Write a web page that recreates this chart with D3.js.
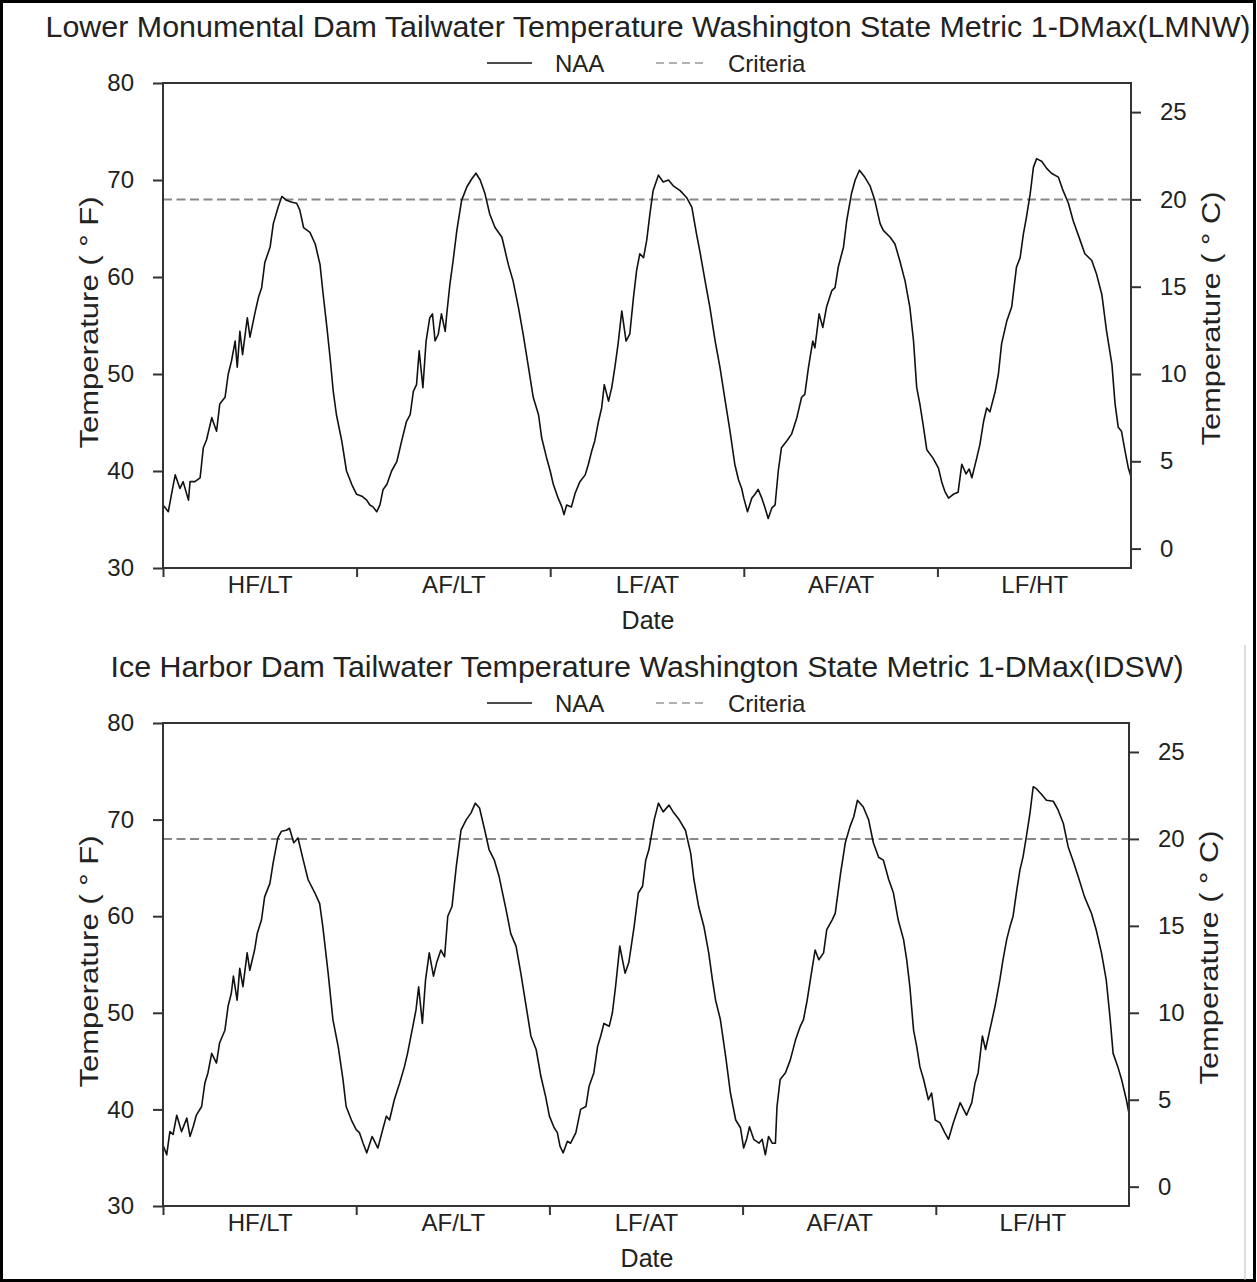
<!DOCTYPE html>
<html>
<head>
<meta charset="utf-8">
<script src="https://cdn.jsdelivr.net/npm/d3@7"></script>
<style>
  body { margin: 0; background: #fff; }
  svg { display: block; font-family: "Liberation Sans", Arial, sans-serif; }
</style>
</head>
<body>
<div id="chart"></div>
<script>
// daily max tailwater temp as [day of record, deg F]
const lmnwSeries = [[0,36.5],[10,35.8],[16,37.6],[23,39.6],[32,38.2],[38,38.9],[48,37.0],[51,38.9],[60,38.9],[70,39.3],[76,42.4],[82,43.2],[92,45.5],[101,44.1],[107,46.9],[117,47.6],[123,50.0],[129,51.3],[136,53.4],[140,50.7],[145,54.4],[150,52.0],[159,55.8],[164,53.8],[173,56.2],[180,57.9],[186,58.9],[192,61.5],[202,63.1],[208,65.5],[217,67.2],[224,68.3],[233,67.9],[243,67.7],[252,67.6],[258,66.9],[265,65.1],[277,64.6],[287,63.4],[296,61.3],[302,58.2],[309,54.8],[315,51.7],[321,48.2],[327,45.8],[337,43.1],[346,40.0],[356,38.6],[365,37.6],[375,37.4],[384,37.0],[390,36.5],[396,36.3],[403,35.8],[409,36.5],[415,38.1],[422,38.6],[431,40.0],[441,41.0],[450,43.1],[459,45.1],[466,45.8],[472,48.2],[478,48.9],[483,52.4],[490,48.6],[496,53.4],[503,55.8],[508,56.2],[513,53.4],[519,54.1],[525,56.2],[532,54.4],[535,56.2],[541,59.3],[547,61.7],[554,64.8],[563,67.9],[573,69.3],[582,70.1],[590,70.7],[598,70.0],[607,68.6],[616,66.5],[626,65.1],[639,64.1],[651,61.3],[660,59.6],[670,56.9],[679,54.1],[689,50.7],[698,47.6],[708,45.8],[714,43.4],[723,41.4],[730,40.0],[736,38.6],[745,37.2],[752,36.3],[756,35.5],[761,36.5],[770,36.3],[777,37.7],[786,38.9],[796,39.6],[802,40.7],[808,42.0],[814,43.1],[821,45.1],[827,46.5],[832,48.9],[840,47.2],[846,48.6],[852,50.7],[858,53.1],[865,56.5],[873,53.4],[880,54.1],[887,57.9],[893,60.7],[899,62.4],[906,62.0],[912,63.8],[918,66.5],[924,68.9],[934,70.5],[943,69.8],[953,70.0],[962,69.4],[975,68.9],[987,68.2],[997,67.2],[1006,64.4],[1012,62.7],[1022,59.6],[1031,56.9],[1041,53.4],[1050,50.7],[1060,47.2],[1069,44.1],[1078,40.7],[1085,39.1],[1091,38.2],[1095,37.2],[1102,35.8],[1110,37.2],[1116,37.6],[1122,38.1],[1129,37.2],[1135,36.2],[1141,35.1],[1148,36.2],[1154,36.5],[1160,40.0],[1166,42.4],[1176,43.1],[1185,43.8],[1195,45.5],[1204,47.6],[1210,47.9],[1217,50.7],[1225,53.4],[1229,52.7],[1237,56.2],[1244,54.8],[1251,56.9],[1261,58.6],[1267,58.9],[1273,61.0],[1283,63.1],[1289,65.8],[1298,68.6],[1305,70.0],[1313,71.0],[1323,70.3],[1333,69.4],[1342,67.9],[1352,65.5],[1358,64.8],[1371,64.1],[1380,63.4],[1389,61.7],[1399,59.6],[1408,56.9],[1415,53.4],[1421,48.6],[1427,46.9],[1433,44.8],[1440,42.2],[1452,41.3],[1462,40.3],[1468,38.9],[1474,37.9],[1481,37.2],[1490,37.6],[1499,37.8],[1506,40.7],[1514,39.7],[1520,40.2],[1525,39.3],[1534,41.3],[1540,42.7],[1547,45.1],[1553,46.5],[1559,46.1],[1569,48.2],[1575,50.0],[1581,53.1],[1591,55.5],[1600,56.9],[1609,61.0],[1616,62.0],[1622,64.4],[1628,66.2],[1635,68.6],[1641,71.3],[1647,72.2],[1657,71.9],[1666,71.2],[1675,70.7],[1688,70.3],[1697,68.9],[1707,67.6],[1716,65.8],[1729,63.8],[1738,62.4],[1751,61.7],[1760,60.3],[1770,58.2],[1779,54.4],[1789,51.0],[1795,46.9],[1801,44.5],[1807,44.1],[1814,42.0],[1820,40.3],[1825,39.4]];

const idswSeries = [[0,36.3],[7,35.3],[13,37.7],[19,37.4],[26,39.4],[35,37.7],[45,39.1],[51,37.2],[57,38.2],[63,39.4],[73,40.3],[79,42.7],[85,43.8],[92,45.8],[101,44.8],[107,46.9],[117,48.2],[123,50.7],[129,52.0],[133,53.8],[140,51.3],[145,54.6],[151,52.7],[159,56.2],[164,54.4],[173,56.5],[178,58.2],[186,59.6],[192,62.0],[202,63.4],[208,65.5],[217,68.1],[224,68.8],[233,68.9],[239,69.1],[247,67.6],[255,68.1],[265,65.8],[274,63.8],[287,62.4],[296,61.3],[302,58.9],[312,54.1],[321,49.3],[331,46.5],[340,43.1],[346,40.3],[356,38.9],[365,37.9],[371,37.6],[378,36.5],[385,35.5],[395,37.2],[406,36.0],[415,37.9],[422,39.3],[428,38.9],[437,41.0],[447,42.7],[456,44.4],[462,45.8],[472,48.6],[478,50.3],[483,52.7],[490,48.9],[496,53.4],[503,56.2],[511,53.8],[517,55.2],[525,56.5],[532,55.8],[538,60.0],[546,61.0],[554,65.1],[563,68.9],[573,70.0],[582,70.7],[590,71.7],[598,71.2],[607,69.1],[616,66.9],[626,65.8],[635,64.1],[648,60.7],[657,58.2],[667,56.9],[676,54.1],[686,50.7],[695,47.6],[705,46.2],[714,43.4],[723,41.3],[730,39.3],[739,38.1],[745,37.6],[750,36.2],[756,35.5],[764,36.7],[770,36.5],[780,37.6],[789,40.0],[799,40.3],[805,42.4],[814,43.8],[821,46.5],[827,47.6],[833,48.9],[843,48.6],[849,50.0],[855,52.7],[863,56.9],[873,54.1],[880,55.2],[890,58.9],[898,62.4],[906,63.1],[912,65.8],[918,66.9],[928,70.0],[936,71.7],[945,70.8],[956,71.5],[965,70.7],[975,70.0],[987,68.9],[997,66.5],[1003,63.8],[1012,61.0],[1022,58.9],[1031,56.2],[1038,53.4],[1044,51.3],[1053,49.3],[1063,45.5],[1072,41.7],[1082,38.9],[1091,38.1],[1097,36.0],[1103,37.0],[1108,38.2],[1116,36.9],[1126,36.5],[1132,36.9],[1138,35.3],[1144,37.2],[1151,36.5],[1157,36.5],[1160,40.3],[1166,43.1],[1176,43.8],[1185,45.1],[1195,47.2],[1204,48.6],[1210,49.3],[1217,51.3],[1225,54.1],[1232,56.5],[1239,55.5],[1248,56.2],[1254,58.6],[1264,59.6],[1270,60.3],[1280,64.4],[1289,67.6],[1298,69.3],[1305,70.3],[1312,72.0],[1323,71.3],[1333,70.0],[1342,67.6],[1352,66.1],[1361,65.8],[1371,63.8],[1380,62.4],[1389,59.6],[1399,57.6],[1405,55.5],[1411,52.7],[1418,48.2],[1424,46.5],[1430,44.4],[1437,43.1],[1446,41.0],[1452,41.7],[1459,38.9],[1468,38.6],[1477,37.6],[1484,36.9],[1493,38.6],[1506,40.7],[1518,39.4],[1528,40.7],[1534,42.7],[1540,43.8],[1548,47.6],[1554,46.2],[1562,48.2],[1572,50.7],[1581,53.4],[1587,55.5],[1594,57.6],[1600,58.9],[1606,60.0],[1613,62.7],[1619,64.8],[1625,66.2],[1631,68.2],[1638,70.7],[1644,73.4],[1650,73.2],[1660,72.6],[1669,72.0],[1682,71.9],[1691,71.0],[1701,69.6],[1710,67.2],[1719,65.8],[1729,64.1],[1741,62.0],[1754,60.3],[1763,58.6],[1773,56.2],[1782,53.4],[1789,49.6],[1795,45.8],[1804,44.4],[1811,43.1],[1820,41.0],[1825,39.6]];

const criteriaF = 68;
const yearBounds = [0, 365, 730, 1095, 1460, 1825];
const yearLabels = ["HF/LT", "AF/LT", "LF/AT", "AF/AT", "LF/HT"];
const fTicks = [30, 40, 50, 60, 70, 80];
const cTicks = [0, 5, 10, 15, 20, 25];
const titles = [
  "Lower Monumental Dam Tailwater Temperature Washington State Metric 1-DMax(LMNW)",
  "Ice Harbor Dam Tailwater Temperature Washington State Metric 1-DMax(IDSW)"
];

const W = 1257, H = 1282;
const ink = "#222";

const svg = d3.select("#chart").append("svg")
  .attr("width", W).attr("height", H);

// outer frame of the figure
svg.append("rect")
  .attr("x", 1.5).attr("y", 1.5).attr("width", W - 4).attr("height", H - 3)
  .attr("fill", "none").attr("stroke", "#000").attr("stroke-width", 3);
svg.append("line")
  .attr("x1", 1245).attr("x2", 1245).attr("y1", 645).attr("y2", H - 2)
  .attr("stroke", "#bbb").attr("stroke-width", 1);

// the source figure's lettering is a little stretched along the reading direction
function stretched(sel, len) {
  return sel.attr("textLength", len).attr("lengthAdjust", "spacingAndGlyphs");
}

function drawPanel(series, title, titleLen, top, bottom, left, right) {
  const g = svg.append("g");
  const x = d3.scaleLinear().domain([0, 1825]).range([left, right]);
  const yF = d3.scaleLinear().domain([30, 80]).range([bottom, top]);
  const yC = d3.scaleLinear().domain([(30 - 32) * 5 / 9, (80 - 32) * 5 / 9]).range([bottom, top]);
  const midY = (top + bottom) / 2 - 3;
  const cx = (left + right) / 2 + 1;

  // title + legend
  stretched(g.append("text").attr("x", cx).attr("y", top - 46)
    .attr("text-anchor", "middle").attr("font-size", 29).attr("fill", ink)
    .text(title), titleLen);

  const ly = top - 20;
  g.append("line").attr("x1", 487).attr("x2", 532).attr("y1", ly).attr("y2", ly)
    .attr("stroke", "#111").attr("stroke-width", 1.5);
  g.append("text").attr("x", 555).attr("y", ly + 9).attr("font-size", 24).attr("fill", ink).text("NAA");
  g.append("line").attr("x1", 656).attr("x2", 705).attr("y1", ly).attr("y2", ly)
    .attr("stroke", "#999").attr("stroke-width", 1.5).attr("stroke-dasharray", "8,5");
  g.append("text").attr("x", 728).attr("y", ly + 9).attr("font-size", 24).attr("fill", ink).text("Criteria");

  // criteria line
  g.append("line")
    .attr("x1", x(0)).attr("x2", x(1825))
    .attr("y1", yF(criteriaF)).attr("y2", yF(criteriaF))
    .attr("stroke", "#888").attr("stroke-width", 2).attr("stroke-dasharray", "9,4.5");

  // NAA series
  const line = d3.line().x(d => x(d[0])).y(d => yF(d[1]));
  g.append("path").datum(series)
    .attr("d", line)
    .attr("fill", "none").attr("stroke", "#111").attr("stroke-width", 1.6)
    .attr("stroke-linejoin", "round");

  // frame
  g.append("rect").attr("x", left).attr("y", top)
    .attr("width", right - left).attr("height", bottom - top)
    .attr("fill", "none").attr("stroke", "#333").attr("stroke-width", 2);

  // left axis (deg F)
  const axL = g.append("g").attr("transform", `translate(${left},0)`)
    .call(d3.axisLeft(yF).tickValues(fTicks).tickSize(10).tickPadding(19));
  // right axis (deg C)
  const axR = g.append("g").attr("transform", `translate(${right},0)`)
    .call(d3.axisRight(yC).tickValues(cTicks).tickSize(10).tickPadding(19));
  // bottom: year boundary ticks, then scenario labels centred in each year
  const axB = g.append("g").attr("transform", `translate(0,${bottom})`)
    .call(d3.axisBottom(x).tickValues(yearBounds.slice(0, 5)).tickSize(9).tickFormat(""));
  const mids = yearLabels.map((l, i) => (yearBounds[i] + yearBounds[i + 1]) / 2);
  const axB2 = g.append("g").attr("transform", `translate(0,${bottom})`)
    .call(d3.axisBottom(x).tickValues(mids).tickSize(0).tickPadding(8)
      .tickFormat((d, i) => yearLabels[i]));

  [axL, axR, axB, axB2].forEach(a => {
    a.select(".domain").remove();
    a.selectAll(".tick line").attr("stroke", "#333").attr("stroke-width", 2);
    a.selectAll("text").attr("font-size", 24).attr("fill", ink)
      .attr("font-family", "Liberation Sans, Arial, sans-serif");
  });

  g.append("text").attr("x", cx).attr("y", bottom + 61)
    .attr("text-anchor", "middle").attr("font-size", 25).attr("fill", ink).text("Date");

  stretched(g.append("text").attr("transform", `translate(98,${midY}) rotate(-90)`)
    .attr("text-anchor", "middle").attr("font-size", 26).attr("fill", ink)
    .text("Temperature ( \u00B0 F)"), 252);
  stretched(g.append("text").attr("transform", `translate(${right + 89},${midY - 4}) rotate(-90)`)
    .attr("text-anchor", "middle").attr("font-size", 26).attr("fill", ink)
    .text("Temperature ( \u00B0 C)"), 254);
}

drawPanel(lmnwSeries, titles[0], 1205, 83, 568, 163, 1131);
drawPanel(idswSeries, titles[1], 1073, 723, 1206, 163, 1129);
</script>
</body>
</html>
